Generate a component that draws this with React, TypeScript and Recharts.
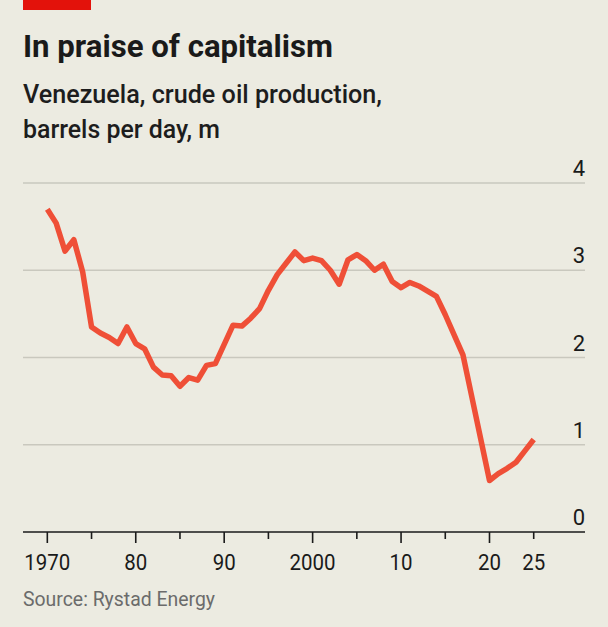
import React from "react";
import { LineChart, Line, XAxis, YAxis, ReferenceLine } from "recharts";

const YEARS = [
  1970, 1971, 1972, 1973, 1974, 1975, 1976, 1977, 1978, 1979,
  1980, 1981, 1982, 1983, 1984, 1985, 1986, 1987, 1988, 1989,
  1990, 1991, 1992, 1993, 1994, 1995, 1996, 1997, 1998, 1999,
  2000, 2001, 2002, 2003, 2004, 2005, 2006, 2007, 2008, 2009,
  2010, 2011, 2012, 2013, 2014, 2015, 2016, 2017, 2018, 2019,
  2020, 2021, 2022, 2023, 2024, 2025,
];

const PRODUCTION = [
  3.7, 3.54, 3.22, 3.35, 2.98, 2.35, 2.28, 2.23, 2.16, 2.35,
  2.16, 2.1, 1.89, 1.8, 1.79, 1.67, 1.77, 1.74, 1.91, 1.93,
  2.15, 2.37, 2.36, 2.45, 2.56, 2.77, 2.95, 3.08, 3.21, 3.11,
  3.14, 3.11, 3.0, 2.84, 3.12, 3.18, 3.11, 3.0, 3.07, 2.87,
  2.8, 2.86, 2.82, 2.76, 2.7, 2.49, 2.26, 2.03, 1.55, 1.07,
  0.59, 0.67, 0.73, 0.8, 0.93, 1.06,
];

const X_TICKS = [1970, 1975, 1980, 1985, 1990, 1995, 2000, 2005, 2010, 2015, 2020, 2025];
const X_TICK_LABELS = ["1970", "", "80", "", "90", "", "2000", "", "10", "", "20", "25"];
const X_MAJOR = [true, false, true, false, true, false, true, false, true, false, true, false];
const Y_TICKS = [0, 1, 2, 3, 4];
const GRID_VALUES = [1, 2, 3, 4];

const TITLE = "In praise of capitalism";
const SUBTITLE_1 = "Venezuela, crude oil production,";
const SUBTITLE_2 = "barrels per day, m";
const SOURCE = "Source: Rystad Energy";

const data = YEARS.map((year, i) => ({ year, value: PRODUCTION[i] }));

const BG = "#ecebe1";
const LINE = "#ef4f37";
const FONT = "Roboto, 'Liberation Sans', sans-serif";

const XTick = (props: any) => {
  const { x, y, payload } = props;
  const idx = X_TICKS.indexOf(payload.value);
  const major = X_MAJOR[idx];
  const label = X_TICK_LABELS[idx];
  return (
    <g>
      <line x1={x} x2={x} y1={y} y2={y + (major ? 11 : 7)} stroke="#1a1a1a" strokeWidth={1.6} />
      {label ? (
        <text x={x} y={y + 38} textAnchor="middle" fontSize={22} fontFamily={FONT} fill="#1a1a1a"
          textLength={label.length * 11.5} lengthAdjust="spacingAndGlyphs">
          {label}
        </text>
      ) : null}
    </g>
  );
};

const YTick = (props: any) => {
  const { x, y, payload } = props;
  return (
    <text x={x} y={y - 7} textAnchor="end" fontSize={22} fontFamily={FONT} fill="#1a1a1a">
      {payload.value}
    </text>
  );
};

export default function App() {
  return (
    <div style={{ position: "absolute", left: 0, top: 0, width: 608, height: 627, background: BG, overflow: "hidden" }}>
      <svg width={608} height={627} style={{ position: "absolute", left: 0, top: 0 }}>
        <rect x={23} y={0} width={68} height={10} fill="#e3120b" />
        <text x={23} y={57} fontSize={32} fontWeight={700} fontFamily={FONT} fill="#1a1a1a" textLength={310} lengthAdjust="spacingAndGlyphs">
          {TITLE}
        </text>
        <text x={23} y={103} fontSize={25} fontWeight={500} fontFamily={FONT} fill="#1d1d1d" textLength={359} lengthAdjust="spacingAndGlyphs">
          {SUBTITLE_1}
        </text>
        <text x={23} y={138} fontSize={25} fontWeight={500} fontFamily={FONT} fill="#1d1d1d" textLength={197} lengthAdjust="spacingAndGlyphs">
          {SUBTITLE_2}
        </text>
        <text x={23} y={606} fontSize={19.5} fontFamily={FONT} fill="#6b6b6b" textLength={192} lengthAdjust="spacingAndGlyphs">
          {SOURCE}
        </text>
      </svg>
      <div style={{ position: "absolute", left: 0, top: 0 }}>
        <LineChart width={608} height={627} data={data} margin={{ top: 183, right: 22, bottom: 55, left: 23 }}>
          {GRID_VALUES.map((v) => (
            <ReferenceLine key={v} y={v} stroke="#c9c8be" strokeWidth={1.6} ifOverflow="extendDomain" />
          ))}
          <XAxis
            dataKey="year"
            type="number"
            domain={[1967.25, 2030.8]}
            ticks={X_TICKS}
            interval={0}
            height={40}
            tickSize={0}
            tickMargin={0}
            tickLine={false}
            axisLine={{ stroke: "#1a1a1a", strokeWidth: 1.6 }}
            tick={(p: any) => <XTick {...p} />}
            allowDataOverflow
          />
          <YAxis
            orientation="right"
            type="number"
            domain={[0, 4]}
            ticks={Y_TICKS}
            interval={0}
            width={1}
            tickSize={0}
            tickMargin={0}
            tickLine={false}
            axisLine={false}
            tick={(p: any) => <YTick {...p} />}
          />
          <Line
            type="linear"
            dataKey="value"
            stroke={LINE}
            strokeWidth={5.5}
            dot={false}
            activeDot={false}
            strokeLinejoin="round"
            isAnimationActive={false}
          />
        </LineChart>
      </div>
    </div>
  );
}
